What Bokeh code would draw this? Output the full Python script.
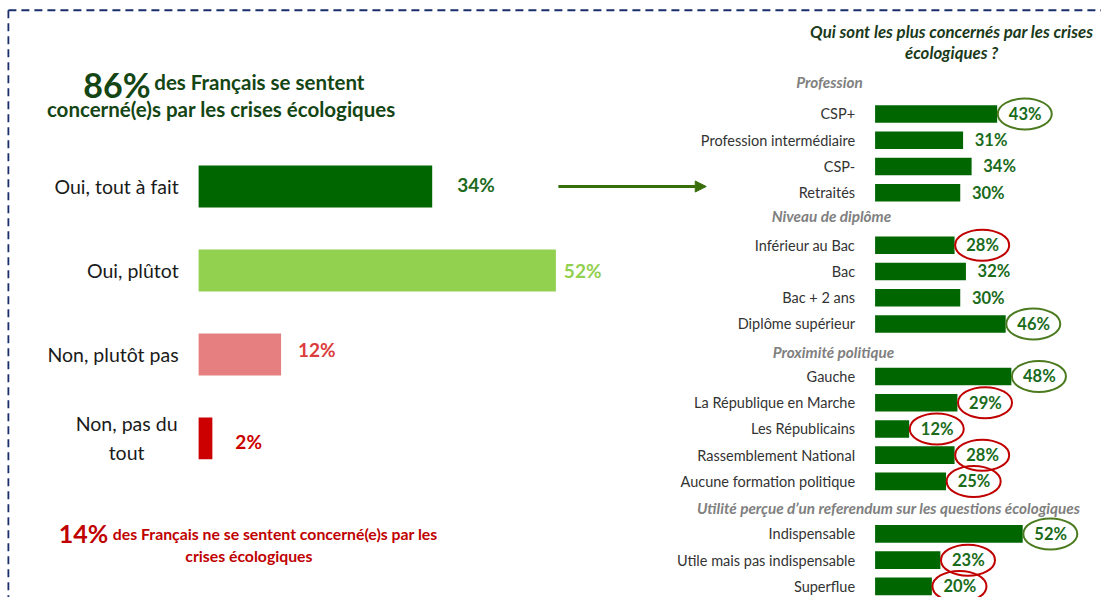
from bokeh.plotting import figure
from bokeh.models import Range1d, ColumnDataSource, Arrow, NormalHead, Label
from bokeh.embed import file_html
from bokeh.resources import INLINE
from bokeh.core.properties import value

FONT = "Lato"

# ---------------- data ----------------
left_categories = ["Oui, tout à fait", "Oui, plûtot", "Non, plutôt pas", "Non, pas du\ntout"]
left_values = [34, 52, 12, 2]

right_groups = ["Profession", "Niveau de diplôme", "Proximité politique",
                "Utilité perçue d’un referendum sur les questions écologiques"]
right_categories = [
    ["CSP+", "Profession intermédiaire", "CSP-", "Retraités"],
    ["Inférieur au Bac", "Bac", "Bac + 2 ans", "Diplôme supérieur"],
    ["Gauche", "La République en Marche", "Les Républicains", "Rassemblement National",
     "Aucune formation politique"],
    ["Indispensable", "Utile mais pas indispensable", "Superflue"],
]
right_values = [
    [43, 31, 34, 30],
    [28, 32, 30, 46],
    [48, 29, 12, 28, 25],
    [52, 23, 20],
]
right_highlight = [
    ["high", None, None, None],
    ["low", None, None, "high"],
    ["high", "low", "low", "low", "low"],
    ["high", "low", "low"],
]

# ---------------- styles / layout ----------------
left_bar_colors = ["#006600", "#92d050", "#e67f7f", "#cc0000"]
left_label_colors = ["#1e6b1e", "#92d050", "#dc3c3c", "#cc0000"]
left_label_gap = [25, 8, 17, 23]
left_label_dy = [-2, 0, -5, 3]
right_bar_color = "#006600"
right_label_color = "#1a6b1a"
ring_colors = {"high": "#4b7a1f", "low": "#c00000"}
header_centers_px = [841, 843, 845, 901]
header_dy = [-0.23, -0.1, 0.07, 0.03]

W, H = 1101, 597           # canvas size
RW, RH = 1117, 613         # reference layout space

L_X0, L_PX = 201.0, 6.97    # left panel: px of 0 %, px per %
L_Y0, L_PITCH = 191.0, 86.2
R_X0, R_PX = 887.3, 2.88
R_Y0, R_PITCH = 116.5, 26.95

p = figure(width=W, height=H, output_backend="svg", toolbar_location=None,
           x_range=Range1d(0, RW), y_range=Range1d(RH, 0),
           x_axis_type=None, y_axis_type=None, min_border=0,
           background_fill_color="white", border_fill_color="white")
p.outline_line_color = None
p.grid.visible = False

p.extra_x_ranges = {
    "lx": Range1d((0 - L_X0) / L_PX, (RW - L_X0) / L_PX),
    "rx": Range1d((0 - R_X0) / R_PX, (RW - R_X0) / R_PX),
}
p.extra_y_ranges = {
    "ly": Range1d((RH - L_Y0) / L_PITCH, (0 - L_Y0) / L_PITCH),
    "ry": Range1d((RH - R_Y0) / R_PITCH, (0 - R_Y0) / R_PITCH),
}

# ---------------- dashed frame ----------------
p.segment(x0=[8, 8], y0=[10, 10], x1=[RW, 8], y1=[10, RH],
          line_color="#1a2e6b", line_width=1.8, line_dash="8 5")

# ---------------- left panel ----------------
lsrc = ColumnDataSource(dict(
    i=list(range(len(left_values))), v=left_values,
    cat=left_categories, lab=[f"{v}%" for v in left_values],
    color=left_bar_colors, lcolor=left_label_colors,
    gap=left_label_gap, dy=left_label_dy,
))
p.hbar(y="i", left=0, right="v", height=0.5, source=lsrc, fill_color="color",
       line_color=None, x_range_name="lx", y_range_name="ly")

single = [k for k, c in enumerate(left_categories) if "\n" not in c]
multi = [k for k, c in enumerate(left_categories) if "\n" in c]
p.text(x=[0] * len(single), y=single, text=[left_categories[k] for k in single],
       x_offset=-20, text_align="right", text_baseline="middle",
       text_font=value(FONT), text_font_size="19.5px", text_color="#1a1a1a",
       x_range_name="lx", y_range_name="ly")
p.text(x=[0] * len(multi), y=multi, text=[left_categories[k] for k in multi],
       x_offset=-72, text_align="center", text_baseline="middle", text_line_height=1.25,
       text_font=value(FONT), text_font_size="19.5px", text_color="#1a1a1a",
       x_range_name="lx", y_range_name="ly")
p.text(x="v", y="i", text="lab", source=lsrc, x_offset="gap", y_offset="dy",
       text_align="left", text_baseline="middle", text_font=value(FONT),
       text_font_style="bold", text_font_size="19px", text_color="lcolor",
       x_range_name="lx", y_range_name="ly")

# titles left
p.add_layout(Label(x=84, y=86, text="86%", text_font=FONT, text_font_style="bold",
                   text_font_size="34px", text_color="#144514", text_baseline="alphabetic"))
p.add_layout(Label(x=156, y=84, text="des Français se sentent", text_font=FONT,
                   text_font_style="bold", text_font_size="20.5px", text_color="#144514",
                   text_baseline="alphabetic"))
p.add_layout(Label(x=224, y=111, text="concerné(e)s par les crises écologiques", text_font=FONT,
                   text_font_style="bold", text_font_size="20.5px", text_color="#144514",
                   text_align="center", text_baseline="alphabetic"))
p.add_layout(Label(x=59, y=547, text="14%", text_font=FONT, text_font_style="bold",
                   text_font_size="25px", text_color="#c00000", text_baseline="alphabetic"))
p.add_layout(Label(x=114, y=547, text="des Français ne se sentent concerné(e)s par les",
                   text_font=FONT, text_font_style="bold", text_font_size="15.8px",
                   text_color="#c00000", text_baseline="alphabetic"))
p.add_layout(Label(x=252, y=570, text="crises écologiques", text_font=FONT,
                   text_font_style="bold", text_font_size="15.8px", text_color="#c00000",
                   text_align="center", text_baseline="alphabetic"))

# arrow
p.add_layout(Arrow(end=NormalHead(size=11, fill_color="#376e0a", line_color="#376e0a"),
                   x_start=566, y_start=191, x_end=716, y_end=191,
                   line_color="#376e0a", line_width=3))

# ---------------- right panel ----------------
p.add_layout(Label(x=965, y=32, text="Qui sont les plus concernés par les crises", text_font=FONT,
                   text_font_style="bold italic", text_font_size="16.8px", text_color="#1a3a1a",
                   text_align="center", text_baseline="middle"))
p.add_layout(Label(x=965, y=53, text="écologiques ?", text_font=FONT,
                   text_font_style="bold italic", text_font_size="16.8px", text_color="#1a3a1a",
                   text_align="center", text_baseline="middle"))

slots, cats, vals, hl, hdr_slots = [], [], [], [], []
s = 0
for g, (gc, gv, gh) in enumerate(zip(right_categories, right_values, right_highlight)):
    if g > 0:
        s += 1
    hdr_slots.append(s - 1 + header_dy[g])
    for c, v, h in zip(gc, gv, gh):
        slots.append(s)
        cats.append(c)
        vals.append(v)
        hl.append(h)
        s += 1

rsrc = ColumnDataSource(dict(slot=slots, cat=cats, v=vals, lab=[f"{v}%" for v in vals]))
p.hbar(y="slot", left=0, right="v", height=0.67, source=rsrc, fill_color=right_bar_color,
       line_color=None, x_range_name="rx", y_range_name="ry")
p.text(x=0, y="slot", text="cat", source=rsrc, x_offset=-20, text_align="right",
       text_baseline="middle", text_font=value(FONT), text_font_size="14.5px",
       text_color="#333333", x_range_name="rx", y_range_name="ry")
p.text(x="v", y="slot", text="lab", source=rsrc, x_offset=28, text_align="center",
       text_baseline="middle", text_font=value(FONT), text_font_style="bold",
       text_font_size="16.5px", text_color=right_label_color,
       x_range_name="rx", y_range_name="ry")

ring_idx = [k for k, h in enumerate(hl) if h]
p.ellipse(x=[vals[k] + 28 / R_PX for k in ring_idx], y=[slots[k] for k in ring_idx],
          width=54, height=31, width_units="screen", height_units="screen",
          fill_color=None, line_color=[ring_colors[hl[k]] for k in ring_idx], line_width=2,
          x_range_name="rx", y_range_name="ry")

# section headers
for g, name in enumerate(right_groups):
    p.add_layout(Label(x=header_centers_px[g], y=R_Y0 + hdr_slots[g] * R_PITCH, text=name,
                       text_font=FONT, text_font_style="bold italic", text_font_size="15.3px",
                       text_color="#808080", text_align="center", text_baseline="middle"))

open("out.html", "w").write(file_html(p, INLINE))
